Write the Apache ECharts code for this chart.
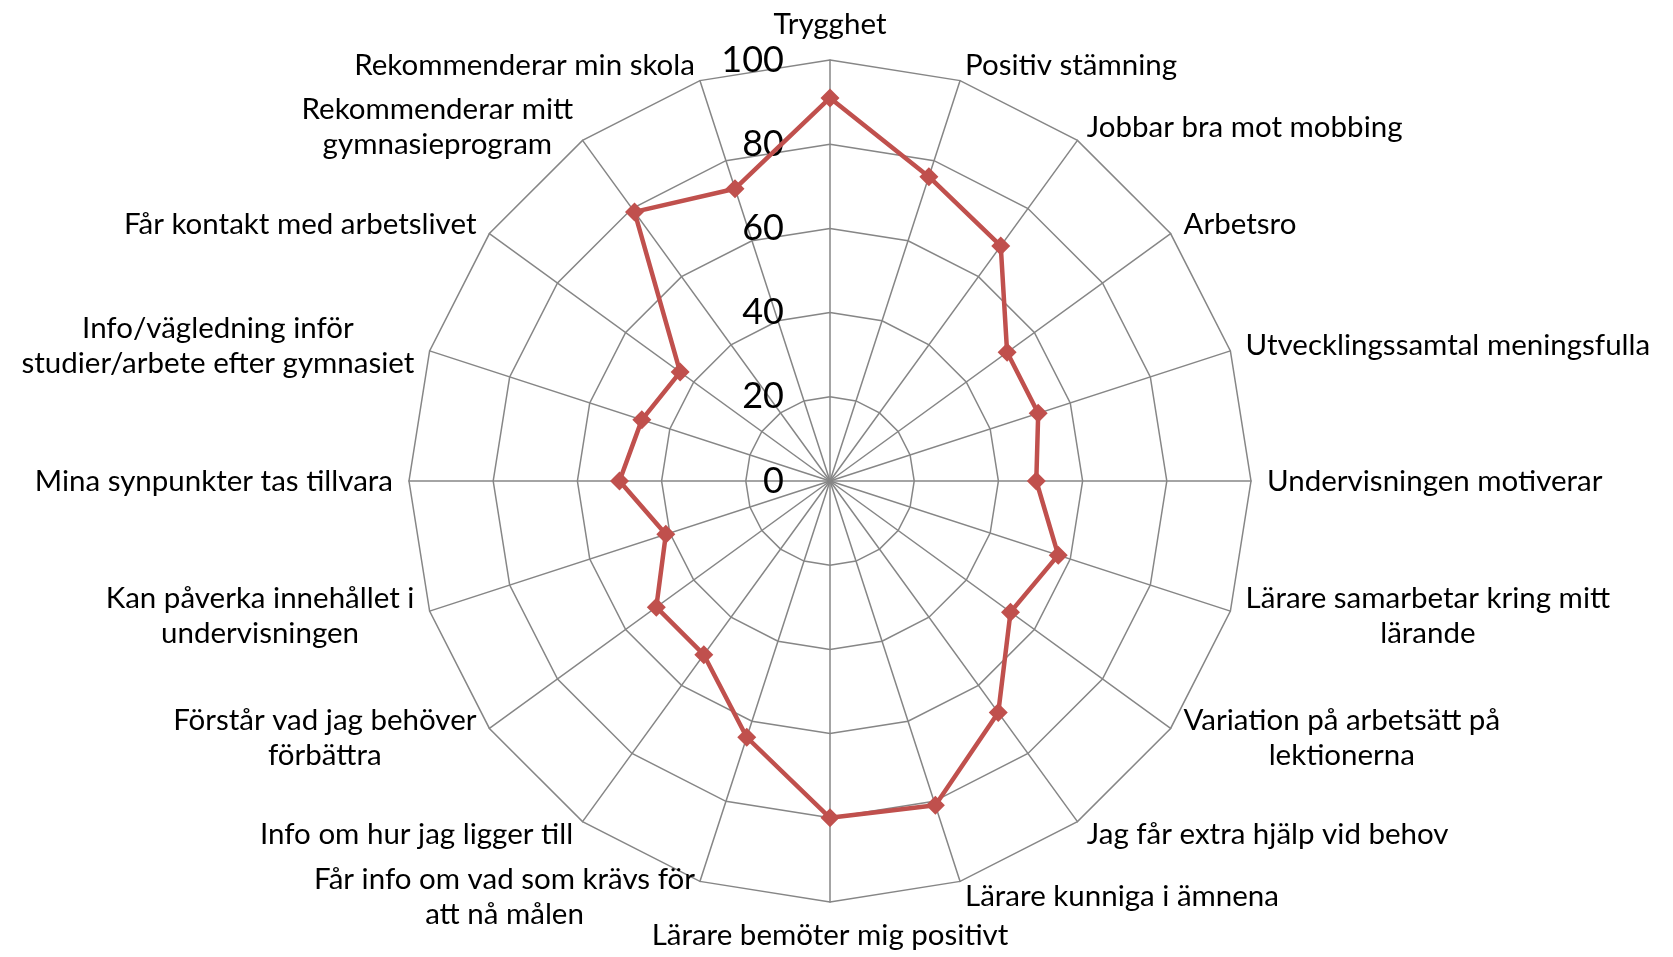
<!DOCTYPE html>
<html>
<head>
<meta charset="utf-8">
<script src="https://cdn.jsdelivr.net/npm/echarts@6/dist/echarts.min.js"></script>
<style>
  html, body { margin: 0; padding: 0; background: #fff; }
  #chart { width: 1673px; height: 957px; }
</style>
</head>
<body>
<div id="chart"></div>
<script>
// kategorier medurs från toppen
var categories = [
  'Trygghet',
  'Positiv stämning',
  'Jobbar bra mot mobbing',
  'Arbetsro',
  'Utvecklingssamtal meningsfulla',
  'Undervisningen motiverar',
  'Lärare samarbetar kring mitt\nlärande',
  'Variation på arbetsätt på\nlektionerna',
  'Jag får extra hjälp vid behov',
  'Lärare kunniga i ämnena',
  'Lärare bemöter mig positivt',
  'Får info om vad som krävs för\natt nå målen',
  'Info om hur jag ligger till',
  'Förstår vad jag behöver\nförbättra',
  'Kan påverka innehållet i\nundervisningen',
  'Mina synpunkter tas tillvara',
  'Info/vägledning inför\nstudier/arbete efter gymnasiet',
  'Får kontakt med arbetslivet',
  'Rekommenderar mitt\ngymnasieprogram',
  'Rekommenderar min skola'
];
var values = [91, 76, 69, 52, 52, 49, 57, 53, 68, 81, 80, 64, 51, 51, 41, 50, 47, 44, 79, 73];
var axisMax = 100;
var axisStep = 20;

// radar i echarts går moturs, så vänd ordningen (första ligger kvar överst)
var order = [0];
for (var k = categories.length - 1; k > 0; k--) order.push(k);

var chart = echarts.init(document.getElementById('chart'));

var indicators = order.map(function (i) {
  var ind = { name: categories[i], min: 0, max: axisMax };
  if (i === 0) {
    // bara första axeln har skalvärden
    ind.axisLabel = {
      show: true,
      fontSize: 36,
      color: '#000',
      fontFamily: 'Lato',
      margin: 46
    };
  }
  return ind;
});
var seriesValues = order.map(function (i) { return values[i]; });

var option = {
  backgroundColor: '#fff',
  textStyle: { fontFamily: 'Lato' },
  radar: {
    center: [830, 481],
    radius: 421,
    startAngle: 90,
    shape: 'polygon',
    splitNumber: axisMax / axisStep,
    indicator: indicators,
    nameGap: 16,
    axisName: {
      color: '#000',
      fontSize: 29.5,
      fontFamily: 'Lato',
      lineHeight: 35,
      formatter: function (name) {
        return name.split('\n').map(function (s) { return '{c|' + s + '}'; }).join('\n');
      },
      rich: {
        c: { align: 'center', fontSize: 29.5, fontFamily: 'Lato', color: '#000', lineHeight: 35 }
      }
    },
    axisLine: { lineStyle: { color: '#868686', width: 1.5 } },
    splitLine: { lineStyle: { color: '#868686', width: 1.5 } },
    splitArea: { show: false },
    axisTick: { show: false },
    axisLabel: { show: false }
  },
  series: [{
    type: 'radar',
    symbol: 'diamond',
    symbolSize: 19,
    lineStyle: { color: '#C0504D', width: 4.5 },
    itemStyle: { color: '#C0504D' },
    data: [{ value: seriesValues, name: 'Resultat' }]
  }]
};

chart.setOption(option);
</script>
</body>
</html>
